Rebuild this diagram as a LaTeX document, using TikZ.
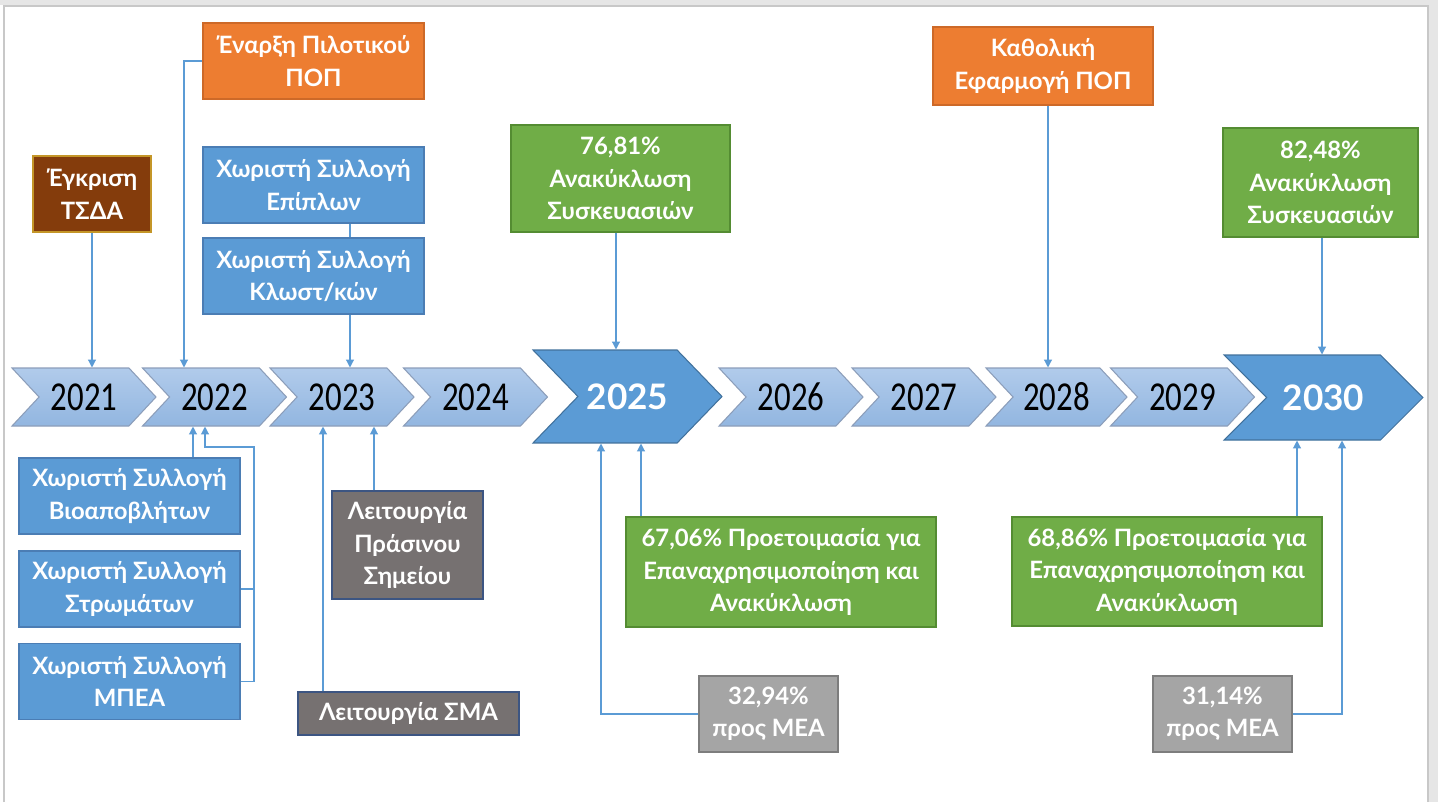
\documentclass[tikz,border=0pt]{standalone}
\usepackage{fontspec}
\setmainfont{Carlito}
\newfontfamily\boxfont{Lato}
\usepackage{graphicx}
\usetikzlibrary{arrows.meta,positioning,shapes.symbols}
\definecolor{frameline}{RGB}{200,200,200}
\definecolor{framebg}{RGB}{230,230,230}
\definecolor{chevTop}{RGB}{177,203,235}
\definecolor{chevBot}{RGB}{146,182,224}
\definecolor{chevLine}{RGB}{140,158,186}
\definecolor{bigBlue}{RGB}{91,155,213}
\definecolor{bigLine}{RGB}{65,113,156}
\definecolor{brownF}{RGB}{132,60,12}
\definecolor{brownL}{RGB}{196,150,40}
\definecolor{orangeF}{RGB}{237,125,49}
\definecolor{orangeL}{RGB}{205,105,40}
\definecolor{blueF}{RGB}{91,155,213}
\definecolor{blueL}{RGB}{75,125,180}
\definecolor{greenF}{RGB}{112,173,71}
\definecolor{greenL}{RGB}{84,140,50}
\definecolor{dgrayF}{RGB}{118,113,113}
\definecolor{dgrayL}{RGB}{60,85,130}
\definecolor{lgrayF}{RGB}{165,165,165}
\definecolor{lgrayL}{RGB}{125,125,125}
\definecolor{link}{RGB}{91,155,213}
\newcommand{\yearlab}[1]{\scalebox{1}[1.25]{#1}}
\tikzset{
  chev/.style={signal,signal from=west,signal to=east,signal pointer angle=94,
    draw=chevLine,line width=0.6pt,top color=chevTop,bottom color=chevBot,
    minimum width=2.88cm,minimum height=1.16cm,inner sep=0pt,
    font=\fontsize{18.7}{20}\selectfont},
  bigchev/.style={signal,signal from=west,signal to=east,signal pointer angle=92,
    draw=bigLine,line width=0.6pt,fill=bigBlue,text=white,inner sep=0pt,
    font=\boxfont\bfseries\fontsize{20}{23}\selectfont},
  box/.style={rectangle,line width=0.7pt,text=white,align=center,inner sep=2pt,
    font=\boxfont\bfseries\fontsize{13.6}{18.5}\selectfont},
  tsda/.style={box,draw=brownL,fill=brownF},
  pop/.style={box,draw=orangeL,fill=orangeF},
  coll/.style={box,draw=blueL,fill=blueF,minimum width=4.42cm,minimum height=1.52cm},
  target/.style={box,draw=greenL,fill=greenF},
  oper/.style={box,draw=dgrayL,fill=dgrayF},
  mea/.style={box,draw=lgrayL,fill=lgrayF,minimum width=2.78cm,minimum height=1.52cm},
  conn/.style={draw=link,line width=0.7pt},
  arr/.style={conn,-{Triangle[length=4.5pt,width=4.5pt]}},
}
\begin{document}
\begin{tikzpicture}[x=0.02cm,y=-0.02cm]
\useasboundingbox (0,0) rectangle (1438,802);
% page frame
\fill[white] (0,0) rectangle (1438,802);
\fill[framebg] (0,0) rectangle (1438,5);
\fill[framebg] (1429,0) rectangle (1438,802);
\draw[frameline,line width=1pt] (4,802) -- (4,6) -- (1428,6) -- (1428,802);
% timeline
\node[chev] (c21) at (84,397) {\yearlab{2021}};
\node[chev] (c22) at (214.5,397) {\yearlab{2022}};
\node[chev] (c23) at (342,397) {\yearlab{2023}};
\node[chev] (c24) at (475.5,397) {\yearlab{2024}};
\node[bigchev,minimum width=3.78cm,minimum height=1.86cm] (c25) at (627.5,396.5) {2025};
\node[chev] (c26) at (791,397) {\yearlab{2026}};
\node[chev] (c27) at (924,397) {\yearlab{2027}};
\node[chev,minimum width=2.82cm] (c28) at (1056.5,397) {\yearlab{2028}};
\node[chev] (c29) at (1182.5,397) {\yearlab{2029}};
\node[bigchev,minimum width=3.98cm,minimum height=1.7cm,signal pointer angle=90] (c30) at (1323.5,397.5) {2030};
% above the line
\node[tsda,minimum width=2.36cm,minimum height=1.52cm] (tsda) at (92,194) {Έγκριση\\ΤΣΔΑ};
\node[pop,minimum width=4.42cm,minimum height=1.52cm] (pilot) at (313.5,61) {Έναρξη Πιλοτικού\\ΠΟΠ};
\node[coll] (epipla) at (313.5,185) {Χωριστή Συλλογή\\Επίπλων};
\node[coll] (klost) at (313.5,276) {Χωριστή Συλλογή\\Κλωστ/κών};
\node[target,minimum width=4.38cm,minimum height=2.14cm] (ana25) at (620.5,178.5) {76,81\%\\Ανακύκλωση\\Συσκευασιών};
\node[pop,minimum width=4.4cm,minimum height=1.56cm] (kath) at (1043,66) {Καθολική\\Εφαρμογή ΠΟΠ};
\node[target,minimum width=3.9cm,minimum height=2.18cm] (ana30) at (1320.5,182.5) {82,48\%\\Ανακύκλωση\\Συσκευασιών};
% below the line
\node[coll] (bio) at (129.5,496) {Χωριστή Συλλογή\\Βιοαποβλήτων};
\node[coll] (strom) at (129.5,589) {Χωριστή Συλλογή\\Στρωμάτων};
\node[coll] (mpea) at (129.5,681.5) {Χωριστή Συλλογή\\ΜΠΕΑ};
\node[oper,minimum width=3.02cm,minimum height=2.16cm] (prasino) at (407.5,545) {Λειτουργία\\Πράσινου\\Σημείου};
\node[oper,minimum width=4.42cm,minimum height=0.86cm] (sma) at (408.5,713.5) {Λειτουργία ΣΜΑ};
\node[target,minimum width=6.2cm,minimum height=2.2cm] (prep25) at (781,572) {67,06\% Προετοιμασία για\\Επαναχρησιμοποίηση και\\Ανακύκλωση};
\node[mea] (mea25) at (768.5,714) {32,94\%\\προς ΜΕΑ};
\node[target,minimum width=6.2cm,minimum height=2.18cm] (prep30) at (1167,571.5) {68,86\% Προετοιμασία για\\Επαναχρησιμοποίηση και\\Ανακύκλωση};
\node[mea] (mea30) at (1222.5,714) {31,14\%\\προς ΜΕΑ};
% links from above
\draw[arr] (tsda.south) -- (tsda.south |- c21.north);
\draw[arr] (pilot.west) -| (184,0 |- c22.north);
\draw[conn] (350,0 |- epipla.south) -- (350,0 |- klost.north);
\draw[arr] (350,0 |- klost.south) -- (350,0 |- c23.north);
\draw[arr] (616,0 |- ana25.south) -- (616,0 |- c25.north);
\draw[arr] (1048,0 |- kath.south) -- (1048,0 |- c28.north);
\draw[arr] (1322,0 |- ana30.south) -- (1322,0 |- c30.north);
% links from below
\coordinate (jn) at (254,447);
\draw[arr] (193,0 |- bio.north) -- (193,0 |- c22.south);
\draw[conn] (strom.east) -| (jn);
\draw[arr] (mpea.east) -| (jn) -| (205,0 |- c22.south);
\draw[arr] (323,0 |- sma.north) -- (323,0 |- c23.south);
\draw[arr] (374,0 |- prasino.north) -- (374,0 |- c23.south);
\draw[arr] (641,0 |- prep25.north) -- (641,0 |- c25.south);
\draw[arr] (mea25.west) -| (601,0 |- c25.south);
\draw[arr] (1297,0 |- prep30.north) -- (1297,0 |- c30.south);
\draw[arr] (mea30.east) -| (1342,0 |- c30.south);
\end{tikzpicture}
\end{document}
